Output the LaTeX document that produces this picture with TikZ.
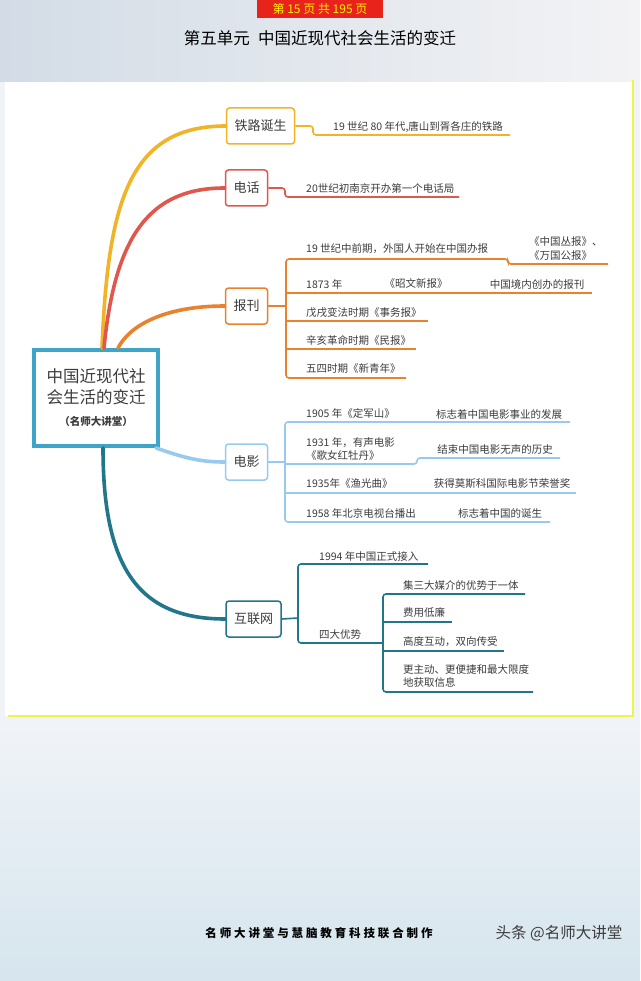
\documentclass[tikz,border=0pt]{standalone}
\usepackage{fontspec}
\setmainfont{Noto Sans CJK SC}
\newfontfamily\footfont[LetterSpace=25]{Noto Sans CJK SC}
\usetikzlibrary{positioning}
\definecolor{railc}{HTML}{F2B426}
\definecolor{phonec}{HTML}{E0574D}
\definecolor{pressc}{HTML}{E8822E}
\definecolor{filmc}{HTML}{98CAF0}
\definecolor{webc}{HTML}{22768B}
\definecolor{hubc}{HTML}{3FA5C8}
\definecolor{inkc}{HTML}{3C3C3C}
\definecolor{framec}{HTML}{EEF54A}
\definecolor{bgl}{HTML}{D3DCE6}
\definecolor{bgm}{HTML}{C6CFDA}
\definecolor{bgr}{HTML}{F3F3F5}
\definecolor{bgtop}{HTML}{F1F4F7}
\definecolor{bgbot}{HTML}{D6E5EE}
\definecolor{pagered}{HTML}{E8231C}
\definecolor{pageyel}{HTML}{FFF000}

\begin{document}
\begin{tikzpicture}[x=1pt, y=-1pt,
	every node/.style={font=\fontsize{10.5}{13}\selectfont, text=inkc},
	topic/.style={draw=#1, line width=1.5pt, rounded corners=3pt, fill=white, minimum height=36pt, inner xsep=8pt, font=\fontsize{13}{15}\selectfont},
	leaf/.style={anchor=west, inner sep=0pt, align=left},
	note/.style={inner sep=0pt, align=center},
	branch/.style={draw=#1, line width=3.6pt, line cap=round},
	twig/.style={draw=#1, line width=1.6pt, rounded corners=3pt}]
	\useasboundingbox (0,0) rectangle (640,981);
	\fill[bgtop] (0,0) rectangle (640,981);
	\shade[left color=bgl, middle color=bgm, right color=bgr] (0,0) rectangle (640,82);
	\shade[top color=bgtop, bottom color=bgbot] (0,716) rectangle (640,981);
	\fill[white] (5,82) rectangle (633,716);
	\draw[framec, line width=1.6pt] (8,716) -- (633,716) -- (633,80);

	\node[fill=pagered, text=pageyel, minimum width=126pt, minimum height=19pt, inner sep=0pt, font=\fontsize{12}{14}\selectfont] (page) at (320,9) {第 15 页 共 195 页};
	\node[text=black, font=\fontsize{16.5}{20}\selectfont] (title) at (320,38) {第五单元\enspace 中国近现代社会生活的变迁};

	\node[draw=hubc, line width=4pt, fill=white, minimum width=124pt, minimum height=96pt, inner sep=0pt, align=center, font=\fontsize{16.5}{21}\selectfont] (hub) at (96,398)
		{中国近现代社\\会生活的变迁\\[1pt]{\fontsize{10.5}{12}\selectfont\bfseries （名师大讲堂）}};

	\node[topic=railc] (rail) at (260.5,126) {铁路诞生};
	\node[topic=phonec] (phone) at (246.5,188) {电话};
	\node[topic=pressc] (press) at (246.5,306) {报刊};
	\node[topic=filmc] (film) at (246.5,462) {电影};
	\node[topic=webc] (web) at (253.5,619) {互联网};

	\draw[branch=railc] ([xshift=6pt]hub.north) .. controls (108,200) and (130,126) .. (rail.west);
	\draw[branch=phonec] ([xshift=8pt]hub.north) .. controls (115,235) and (150,188) .. (phone.west);
	\draw[branch=pressc] ([xshift=22pt]hub.north) .. controls (130,325) and (165,306) .. (press.west);
	\draw[branch=filmc] ([xshift=-4pt]hub.south east) .. controls (185,458) and (200,462) .. (film.west);
	\draw[branch=webc] ([xshift=7pt]hub.south) .. controls (103,570) and (140,619) .. (web.west);

	\draw[twig=railc] (rail.east) -- (313,126) -- (313,135) -- (510,135);
	\node[leaf] (rail1) at (333,127) {19 世纪 80 年代,唐山到胥各庄的铁路};

	\draw[twig=phonec] (phone.east) -- (285,188) -- (285,197) -- (459,197);
	\node[leaf] (phone1) at (306,188) {20世纪初南京开办第一个电话局};

	\draw[twig=pressc] (press.east) -- (286,306);
	\draw[twig=pressc] (608,264) -- (508,264) -- (508,259) -- (286,259) -- (286,378) -- (406,378);
	\foreach \y/\e in {293/592, 321/428, 349/416}
		\draw[twig=pressc] (286,\y) -- (\e,\y);
	\node[leaf] (press1) at (306,249) {19 世纪中前期，外国人开始在中国办报};
	\node[leaf] (press1a) at (529,242) {《中国丛报》、};
	\node[leaf] (press1b) at (529,256) {《万国公报》};
	\node[leaf] (press2) at (306,284) {1873 年};
	\node[note] (press2a) at (416,284) {《昭文新报》};
	\node[note] (press2b) at (537,284) {中国境内创办的报刊};
	\node[leaf] (press3) at (306,313) {戊戌变法时期《事务报》};
	\node[leaf] (press4) at (306,340) {辛亥革命时期《民报》};
	\node[leaf] (press5) at (306,369) {五四时期《新青年》};

	\draw[twig=filmc] (film.east) -- (285,462);
	\draw[twig=filmc] (570,422) -- (285,422) -- (285,522) -- (550,522);
	\draw[twig=filmc] (285,464) -- (417,464) -- (417,458) -- (560,458);
	\draw[twig=filmc] (285,493) -- (576,493);
	\node[leaf] (film1) at (306,414) {1905 年《定军山》};
	\node[note] (film1a) at (499,414) {标志着中国电影事业的发展};
	\node[leaf] (film2) at (306,449) {1931 年，有声电影\\《歌女红牡丹》};
	\node[note] (film2a) at (495,450) {结束中国电影无声的历史};
	\node[leaf] (film3) at (306,484) {1935年《渔光曲》};
	\node[note] (film3a) at (502,484) {获得莫斯科国际电影节荣誉奖};
	\node[leaf] (film4) at (306,513) {1958 年北京电视台播出};
	\node[note] (film4a) at (500,513) {标志着中国的诞生};

	\draw[twig=webc] (web.east) -- (298,618);
	\draw[twig=webc] (428,564) -- (298,564) -- (298,643) -- (383,643);
	\draw[twig=webc] (525,594) -- (383,594) -- (383,692) -- (533,692);
	\foreach \y/\e in {622/452, 651/504}
		\draw[twig=webc] (383,\y) -- (\e,\y);
	\node[leaf] (web1) at (319,556) {1994 年中国正式接入};
	\node[leaf] (web2) at (319,635) {四大优势};
	\node[leaf] (web2a) at (403,585) {集三大媒介的优势于一体};
	\node[leaf] (web2b) at (403,613) {费用低廉};
	\node[leaf] (web2c) at (403,642) {高度互动，双向传受};
	\node[leaf] (web2d) at (403,676) {更主动、更便捷和最大限度\\地获取信息};

	\node[text=black, font=\footfont\fontsize{11.5}{13}\selectfont\bfseries] (credit) at (319,933) {名师大讲堂与慧脑教育科技联合制作};
	\node[text=inkc, font=\fontsize{15.5}{17}\selectfont] (mark) at (559,933) {头条 @名师大讲堂};
\end{tikzpicture}
\end{document}
